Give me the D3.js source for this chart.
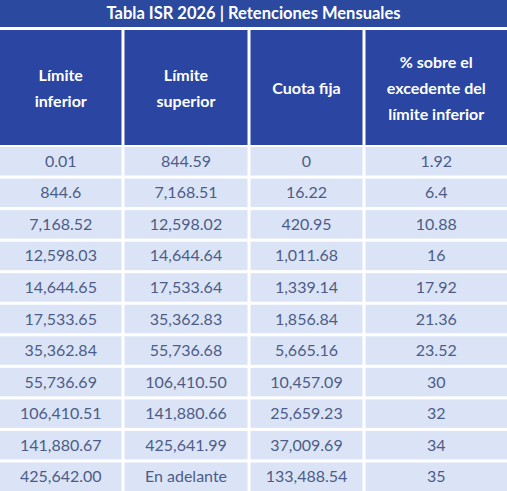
<!DOCTYPE html><html><head><meta charset="utf-8"><script src="https://cdn.jsdelivr.net/npm/d3@7"></script>
<style>body{margin:0;background:#fff}</style></head><body><svg id="c" width="507" height="491"></svg>
<script>
const title = "Tabla ISR 2026 | Retenciones Mensuales";
const headers = [["Límite","inferior"],["Límite","superior"],["Cuota fija"],["% sobre el","excedente del","límite inferior"]];
const limiteInferior = ["0.01","844.6","7,168.52","12,598.03","14,644.65","17,533.65","35,362.84","55,736.69","106,410.51","141,880.67","425,642.00"];
const limiteSuperior = ["844.59","7,168.51","12,598.02","14,644.64","17,533.64","35,362.83","55,736.68","106,410.50","141,880.66","425,641.99","En adelante"];
const cuotaFija = ["0","16.22","420.95","1,011.68","1,339.14","1,856.84","5,665.16","10,457.09","25,659.23","37,009.69","133,488.54"];
const porcentaje = ["1.92","6.4","10.88","16","17.92","21.36","23.52","30","32","34","35"];
const cols = [limiteInferior, limiteSuperior, cuotaFija, porcentaje];
const svg = d3.select("#c");
const font = "Lato, 'Noto Sans', sans-serif";
const edges = [0,123,249,364,507];
const gap = 3;
svg.append("rect").attr("x",0).attr("y",0).attr("width",507).attr("height",27).attr("fill","#2b4a9f");
svg.append("text").attr("x",253.5).attr("y",19).attr("text-anchor","middle").attr("fill","#fff")
  .attr("font-family",font).attr("font-weight","bold").attr("font-size",16.5).text(title);
const hy0=30, hy1=145;
headers.forEach((h,i)=>{
  const x0=edges[i]+(i?gap/2:0), x1=edges[i+1]-(i<3?gap/2:0);
  svg.append("rect").attr("x",x0).attr("y",hy0).attr("width",x1-x0).attr("height",hy1-hy0).attr("fill","#2a46a2");
  const cx=(x0+x1)/2, lh=26, cy=(hy0+hy1)/2 - (h.length-1)*lh/2;
  h.forEach((t,j)=>svg.append("text").attr("x",cx).attr("y",cy+j*lh+6).attr("text-anchor","middle")
    .attr("fill","#fff").attr("font-family",font).attr("font-weight","bold").attr("font-size",16).text(t));
});
const y = d3.scaleBand().domain(d3.range(11)).range([147,491+gap]).paddingInner(0);
cols.forEach((col,i)=>{
  const x0=edges[i]+(i?gap/2:0), x1=edges[i+1]-(i<3?gap/2:0);
  col.forEach((v,r)=>{
    svg.append("rect").attr("x",x0).attr("y",y(r)).attr("width",x1-x0).attr("height",y.bandwidth()-gap).attr("fill","#dbe4f7");
    svg.append("text").attr("x",(x0+x1)/2).attr("y",y(r)+(y.bandwidth()-gap)/2+5.5).attr("text-anchor","middle")
      .attr("fill","#4d5c86").attr("font-family",font).attr("font-size",16).text(v);
  });
});
</script></body></html>
